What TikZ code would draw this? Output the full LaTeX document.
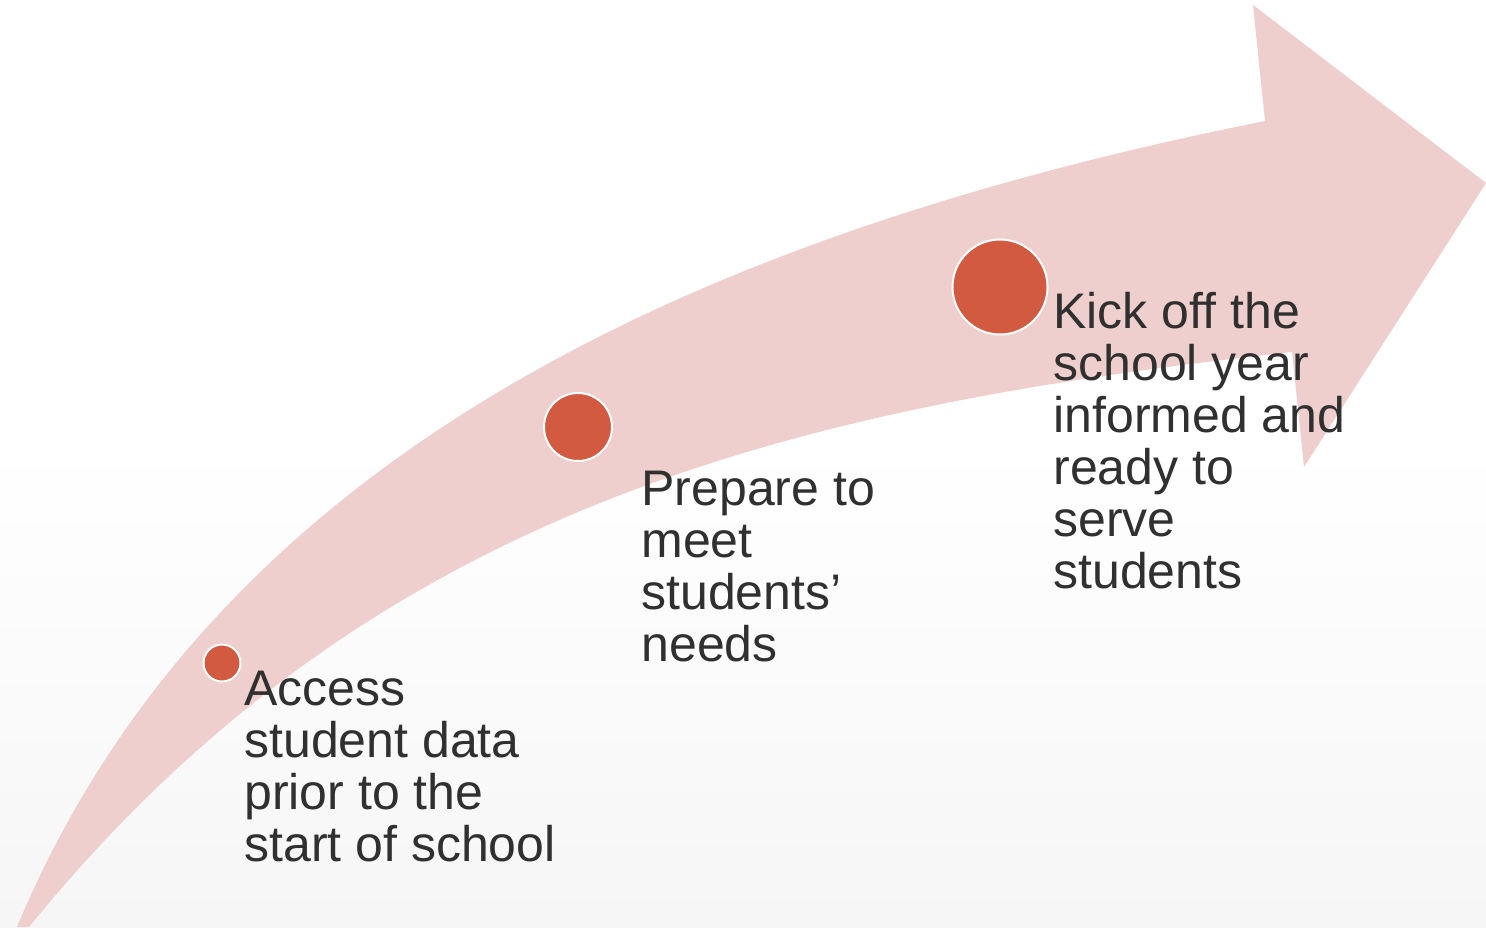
\documentclass[tikz,border=0pt]{standalone}
\usepackage{fontspec}
\setmainfont{Liberation Sans}
\definecolor{arrowpink}{HTML}{EECFCD}
\definecolor{dotred}{HTML}{D25A40}
\definecolor{txtgray}{HTML}{303030}
\definecolor{bgbottom}{HTML}{F6F6F6}
\tikzset{
  dot/.style={circle, fill=dotred, draw=white, line width=1pt, inner sep=0pt},
  lbl/.style={anchor=base west, inner sep=0pt, align=left, text=txtgray,
    font=\fontsize{25pt}{26pt}\selectfont}
}
\begin{document}
\begin{tikzpicture}[x=0.5pt,y=-0.5pt]
\useasboundingbox (0,0) rectangle (1486,927);
\fill[white] (0,0) rectangle (1486,927);
\shade[top color=white, bottom color=bgbottom] (0,440) rectangle (1486,927);
% curved arrow
\fill[arrowpink] (17,927) .. controls (217,447) and (715,231) .. (1265,121)
  -- (1253,5) -- (1486,183) -- (1304,467) -- (1292,352)
  .. controls (792,407) and (370,507) .. (29,927) -- cycle;
% dots
\node[dot, minimum size=18.5pt] (c1) at (222,663) {};
\node[dot, minimum size=34pt] (c2) at (578,427) {};
\node[dot, minimum size=47.5pt] (c3) at (1000,287) {};
% labels (base anchor = last line's baseline)
\node[lbl] (t1) at (244,861) {Access\\student data\\prior to the\\start of school};
\node[lbl] (t2) at (641,661) {Prepare to\\meet\\students’\\needs};
\node[lbl] (t3) at (1053,588) {Kick off the\\school year\\informed and\\ready to\\serve\\students};
\end{tikzpicture}
\end{document}
